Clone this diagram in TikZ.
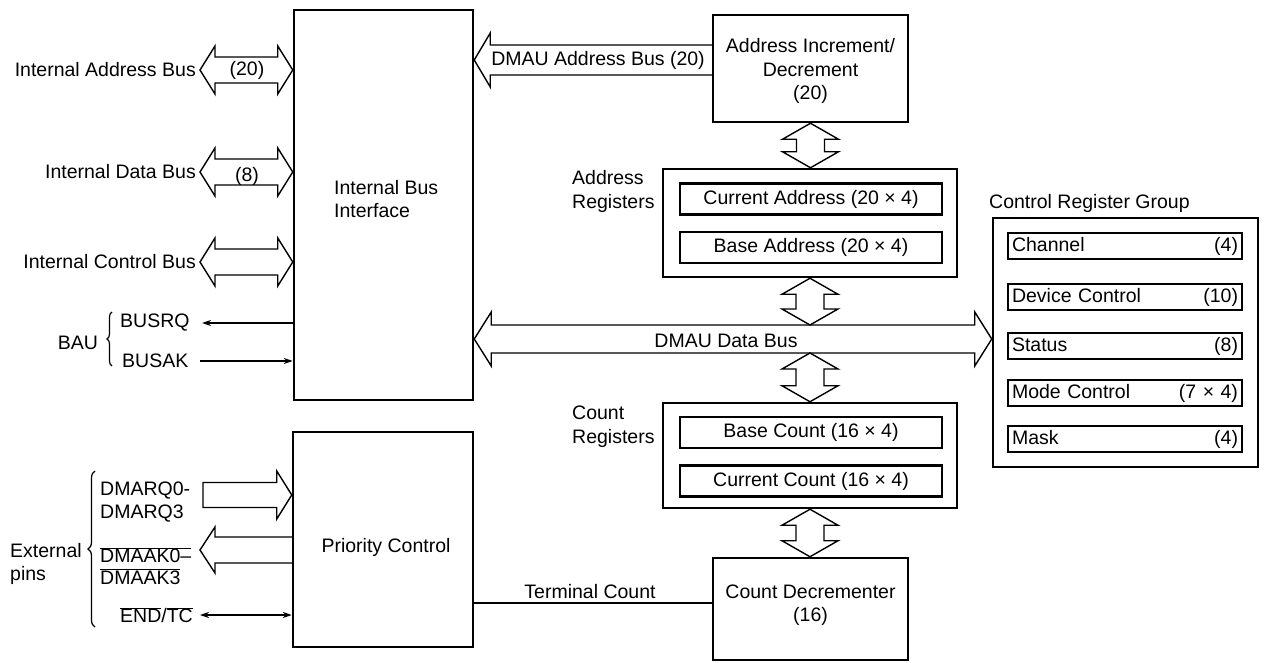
\documentclass[tikz,border=0pt]{standalone}
\usepackage{fontspec}
\setmainfont{Liberation Sans}
\usetikzlibrary{arrows.meta,decorations.pathreplacing,calc}

% horizontal double-headed wide arrow: left tip, right tip, shaft half, head half, head length
\newcommand\dblH[5]{%
 \draw[bus] let \p1=(#1), \p2=(#2) in
 (\x1,\y1) -- (\x1+#5pt,\y1+#4pt) -- (\x1+#5pt,\y1+#3pt) -- (\x2-#5pt,\y1+#3pt) -- (\x2-#5pt,\y1+#4pt)
 -- (\x2,\y1) -- (\x2-#5pt,\y1-#4pt) -- (\x2-#5pt,\y1-#3pt) -- (\x1+#5pt,\y1-#3pt) -- (\x1+#5pt,\y1-#4pt) -- cycle;}
% vertical double-headed wide arrow: top tip, bottom tip
\newcommand\dblV[5]{%
 \draw[bus] let \p1=(#1), \p2=(#2) in
 (\x1,\y1) -- (\x1+#4pt,\y1-#5pt) -- (\x1+#3pt,\y1-#5pt) -- (\x1+#3pt,\y2+#5pt) -- (\x1+#4pt,\y2+#5pt)
 -- (\x1,\y2) -- (\x1-#4pt,\y2+#5pt) -- (\x1-#3pt,\y2+#5pt) -- (\x1-#3pt,\y1-#5pt) -- (\x1-#4pt,\y1-#5pt) -- cycle;}
% left-pointing wide arrow, open tail: tip, tail
\newcommand\sglL[5]{%
 \draw[bus] let \p1=(#1), \p2=(#2) in
 (\x2,\y1+#3pt) -- (\x1+#5pt,\y1+#3pt) -- (\x1+#5pt,\y1+#4pt) -- (\x1,\y1) -- (\x1+#5pt,\y1-#4pt) -- (\x1+#5pt,\y1-#3pt) -- (\x2,\y1-#3pt);}
% right-pointing wide arrow, closed tail: tail, tip
\newcommand\sglR[5]{%
 \draw[bus] let \p1=(#1), \p2=(#2) in
 (\x1,\y2+#3pt) -- (\x2-#5pt,\y2+#3pt) -- (\x2-#5pt,\y2+#4pt) -- (\x2,\y2) -- (\x2-#5pt,\y2-#4pt) -- (\x2-#5pt,\y2-#3pt) -- (\x1,\y2-#3pt) -- cycle;}

\begin{document}
\begin{tikzpicture}[x=1pt,y=-1pt,
  every node/.style={font=\fontsize{19.5}{23.5}\selectfont, inner sep=0pt},
  box/.style={draw, line width=2.5pt, align=center},
  reg/.style={draw, line width=2.3pt, minimum width=262pt, minimum height=31pt},
  crgitem/.style={draw, line width=2.3pt, minimum width=234pt, minimum height=26pt, text width=226pt, inner sep=4pt},
  bus/.style={line width=1.4pt, line join=miter},
  sig/.style={line width=1.5pt},
  tip/.style={-{Stealth[length=9pt,width=6pt]}},
  brc/.style={line width=1.2pt, decorate, decoration={brace, amplitude=#1}}
]
\useasboundingbox (0,0) rectangle (1266,663);

% main blocks
\node[box, minimum width=179pt, minimum height=390pt] (ibi) at (383.5,205) {};
\node[anchor=west, align=left] (ibilbl) at (334,199) {Internal Bus\\Interface};
\node[box, minimum width=180pt, minimum height=215pt] (pc) at (383,539.5) {};
\node (pclbl) at (386,547) {Priority Control};
\node[box, minimum width=195pt, minimum height=107pt] (addinc) at (810.5,68.5) {};
\node[align=center] (addlbl) at (810.5,71) {Address Increment/\\Decrement\\(20)};
\node[box, minimum width=294pt, minimum height=108pt] (areg) at (810,223) {};
\node[reg] (curaddr) at (811,199) {Current Address (20 × 4)};
\node[reg] (baseaddr) at (811,247.5) {Base Address (20 × 4)};
\node[box, minimum width=294pt, minimum height=105pt] (creg) at (810,455.5) {};
\node[reg] (basecnt) at (811,432.5) {Base Count (16 × 4)};
\node[reg] (curcnt) at (811,481) {Current Count (16 × 4)};
\node[box, minimum width=195pt, minimum height=102pt] (cdec) at (810.5,609) {};
\node[align=center] (cdeclbl) at (810.5,605) {Count Decrementer\\(16)};
\node[box, minimum width=265pt, minimum height=249pt] (crg) at (1125.5,342.5) {};
\node[crgitem] (ch) at (1125,246) {Channel\hfill(4)};
\node[crgitem] (dc) at (1125,297) {Device Control\hfill(10)};
\node[crgitem] (st) at (1125,346) {Status\hfill(8)};
\node[crgitem] (mc) at (1125,393) {Mode Control\hfill(7 × 4)};
\node[crgitem] (mk) at (1125,439) {Mask\hfill(4)};

% labels
\node[anchor=west, align=left] (arlbl) at (572,191.5) {Address\\Registers};
\node[anchor=west, align=left] (crlbl) at (572,426.5) {Count\\Registers};
\node[anchor=west] (crglbl) at (989,203) {Control Register Group};
\node[anchor=east] (iablbl) at (196,70) {Internal Address Bus};
\node[anchor=east] (idblbl) at (196,172) {Internal Data Bus};
\node[anchor=east] (icblbl) at (196,262) {Internal Control Bus};
\node (n20) at (247,70) {(20)};
\node (n8) at (247,176) {(8)};
\node (dablbl) at (598,60) {DMAU Address Bus (20)};
\node (dblbl) at (726,341) {DMAU Data Bus};
\node (tclbl) at (590,592) {Terminal Count};
\node (bau) at (78,343) {BAU};
\node[anchor=west] (busrq) at (120,323) {BUSRQ};
\node[anchor=west] (busak) at (122,361) {BUSAK};
\node[anchor=west, align=left] (ext) at (10,564) {External\\pins};
\node[anchor=west, align=left] (dmarq) at (100,502) {DMARQ0-\\DMARQ3};
\node[anchor=west, align=left] (dmaak) at (100,566) {$\overline{\hbox{DMAAK0–}}$\\[-2pt]$\overline{\hbox{DMAAK3}}$};
\node[anchor=east] (endtc) at (193,615) {$\overline{\hbox{END}}$/$\overline{\hbox{TC}}$};

% braces
\draw[brc=5pt] (112,366) -- (112,312);
\draw[brc=7pt] (95,627) -- (95,471);

% coordinates
\coordinate (iab) at (200,70);
\coordinate (idb) at (200,172);
\coordinate (icb) at (200,262);
\coordinate (dab) at (600,60);
\coordinate (db) at (600,339);
\coordinate (dbtop) at (810,325);
\coordinate (dbbot) at (810,353);
\coordinate (rq) at (202,323);
\coordinate (ak) at (200,361);
\coordinate (rqx) at (203,495);
\coordinate (akx) at (200,550);
\coordinate (et) at (200,615);
\coordinate (tc) at (600,603);

% internal buses
\dblH{iab}{ibi.west|-iab}{13}{24}{15}
\dblH{idb}{ibi.west|-idb}{13}{24}{15}
\dblH{icb}{ibi.west|-icb}{13}{24}{15}

% DMAU address bus
\sglL{ibi.east|-dab}{addinc.west|-dab}{15}{27}{16}
% DMAU data bus
\dblH{ibi.east|-db}{crg.west|-db}{14}{27}{17}

% vertical buses
\dblV{addinc.south}{areg.north}{14}{28}{16}
\dblV{areg.south}{areg.south|-dbtop}{14}{28}{16}
\dblV{creg.north|-dbbot}{creg.north}{14}{28}{16}
\dblV{creg.south}{cdec.north}{14}{28}{16}

% priority control pins
\sglR{rqx}{pc.west|-rqx}{12.5}{24}{15}
\sglL{akx}{pc.west|-akx}{13}{23}{15}
\draw[sig,{Stealth[length=9pt,width=6pt]}-{Stealth[length=9pt,width=6pt]}] (et) -- (pc.west|-et);

% BAU signals
\draw[sig,tip] (ibi.west|-rq) -- (rq);
\draw[sig,tip] (ak) -- (ibi.west|-ak);

% terminal count
\draw[sig] (pc.east|-tc) -- (cdec.west|-tc);
\end{tikzpicture}
\end{document}
